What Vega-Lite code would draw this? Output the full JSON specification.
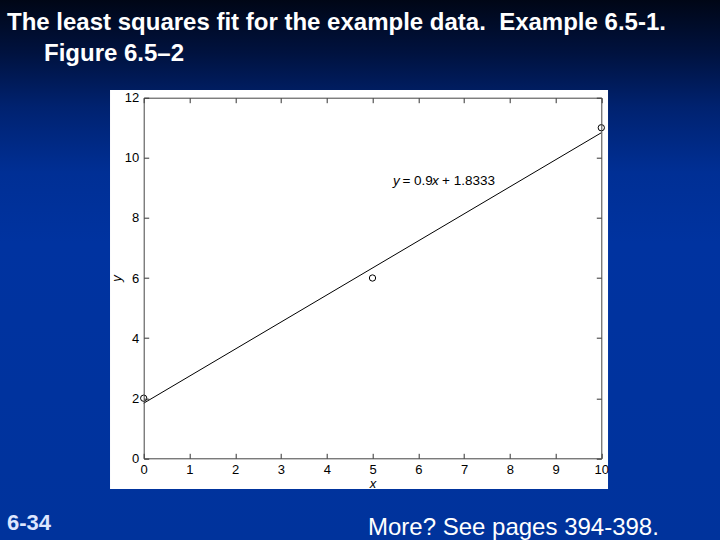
{
  "$schema": "https://vega.github.io/schema/vega-lite/v6.json",
  "autosize": {"type": "none"},
  "width": 457.6,
  "height": 360.6,
  "padding": {"left": 143.7, "top": 97.7, "right": 118.7, "bottom": 81.7},
  "background": "#00339c",
  "config": {
    "view": {"stroke": null},
    "axis": {
      "zindex": 1,
      "grid": false,
      "labelFont": "Liberation Sans",
      "labelFontSize": 13,
      "labelColor": "#000000",
      "titleFont": "Liberation Sans",
      "titleFontSize": 13,
      "titleFontStyle": "italic",
      "titleFontWeight": "normal",
      "titleColor": "#000000",
      "tickSize": -5,
      "tickColor": "#333333",
      "domainColor": "#444444",
      "labelPadding": 10,
      "labelFlush": false,
      "labelOverlap": false
    }
  },
  "datasets": {
    "obs": [{"x": 0, "y": 2}, {"x": 5, "y": 6}, {"x": 10, "y": 11}],
    "fit": [{"x": 0, "y": 1.8333}, {"x": 10, "y": 10.8333}],
    "one": [{"k": 1}]
  },
  "resolve": {"axis": {"x": "independent", "y": "independent"}},
  "layer": [
    {
      "data": {"name": "one"},
      "mark": {
        "type": "rect",
        "clip": false,
        "zindex": 0,
        "fill": {
          "gradient": "linear", "x1": 0, "y1": 0, "x2": 0, "y2": 1,
          "stops": [
            {"offset": 0, "color": "#000615"},
            {"offset": 0.1, "color": "#00123f"},
            {"offset": 0.2, "color": "#002270"},
            {"offset": 0.32, "color": "#002f95"},
            {"offset": 0.45, "color": "#0033a0"},
            {"offset": 1, "color": "#00339c"}
          ]
        }
      },
      "encoding": {
        "x": {"datum": -3.2, "type": "quantitative", "scale": {"domain": [0, 10], "nice": false, "zero": false}, "axis": null},
        "x2": {"datum": 12.7},
        "y": {"datum": -2.8, "type": "quantitative", "scale": {"domain": [0, 12], "nice": false, "zero": false}, "axis": null},
        "y2": {"datum": 15.3}
      }
    },
    {
      "data": {"name": "one"},
      "mark": {"type": "rect", "clip": false, "zindex": 0, "fill": "#ffffff"},
      "encoding": {
        "x": {"datum": -0.736, "type": "quantitative", "scale": {"domain": [0, 10], "nice": false, "zero": false}, "axis": null},
        "x2": {"datum": 10.147},
        "y": {"datum": -1.02, "type": "quantitative", "scale": {"domain": [0, 12], "nice": false, "zero": false}, "axis": null},
        "y2": {"datum": 12.256}
      }
    },
    {
      "data": {"name": "fit"},
      "mark": {"type": "line", "color": "#000000", "strokeWidth": 1, "clip": false, "zindex": 2},
      "encoding": {
        "x": {"field": "x", "type": "quantitative", "scale": {"domain": [0, 10], "nice": false, "zero": false},
              "axis": {"orient": "bottom", "zindex": 1, "values": [0,1,2,3,4,5,6,7,8,9,10], "title": "x", "titlePadding": 1}},
        "y": {"field": "y", "type": "quantitative", "scale": {"domain": [0, 12], "nice": false, "zero": false},
              "axis": {"orient": "left", "zindex": 1, "values": [0,2,4,6,8,10,12], "title": "y", "titlePadding": 1}}
      }
    },
    {
      "data": {"name": "obs"},
      "mark": {"type": "point", "shape": "circle", "filled": false, "stroke": "#000000", "strokeWidth": 1, "size": 40, "opacity": 1, "clip": false, "zindex": 2},
      "encoding": {
        "x": {"field": "x", "type": "quantitative", "scale": {"domain": [0, 10], "nice": false, "zero": false},
              "axis": {"orient": "top", "zindex": 1, "values": [0,1,2,3,4,5,6,7,8,9,10], "labels": false, "title": null}},
        "y": {"field": "y", "type": "quantitative", "scale": {"domain": [0, 12], "nice": false, "zero": false},
              "axis": {"orient": "right", "zindex": 1, "values": [0,2,4,6,8,10,12], "labels": false, "title": null}}
      }
    },
    {
      "data": {"name": "one"},
      "mark": {"type": "text", "clip": false, "zindex": 2, "align": "left", "baseline": "alphabetic", "font": "Liberation Sans", "fontSize": 13.5, "fontStyle": "italic", "color": "#000000", "text": "y"},
      "encoding": {
        "x": {"datum": 5.448, "type": "quantitative", "scale": {"domain": [0, 10], "nice": false, "zero": false}, "axis": null},
        "y": {"datum": 9.095, "type": "quantitative", "scale": {"domain": [0, 12], "nice": false, "zero": false}, "axis": null}
      }
    },
    {
      "data": {"name": "one"},
      "mark": {"type": "text", "clip": false, "zindex": 2, "align": "left", "baseline": "alphabetic", "font": "Liberation Sans", "fontSize": 13.5, "color": "#000000", "text": "= 0.9"},
      "encoding": {
        "x": {"datum": 5.653, "type": "quantitative", "scale": {"domain": [0, 10], "nice": false, "zero": false}, "axis": null},
        "y": {"datum": 9.095, "type": "quantitative", "scale": {"domain": [0, 12], "nice": false, "zero": false}, "axis": null}
      }
    },
    {
      "data": {"name": "one"},
      "mark": {"type": "text", "clip": false, "zindex": 2, "align": "left", "baseline": "alphabetic", "font": "Liberation Sans", "fontSize": 13.5, "fontStyle": "italic", "color": "#000000", "text": "x"},
      "encoding": {
        "x": {"datum": 6.3, "type": "quantitative", "scale": {"domain": [0, 10], "nice": false, "zero": false}, "axis": null},
        "y": {"datum": 9.095, "type": "quantitative", "scale": {"domain": [0, 12], "nice": false, "zero": false}, "axis": null}
      }
    },
    {
      "data": {"name": "one"},
      "mark": {"type": "text", "clip": false, "zindex": 2, "align": "left", "baseline": "alphabetic", "font": "Liberation Sans", "fontSize": 13.5, "color": "#000000", "text": "+ 1.8333"},
      "encoding": {
        "x": {"datum": 6.519, "type": "quantitative", "scale": {"domain": [0, 10], "nice": false, "zero": false}, "axis": null},
        "y": {"datum": 9.095, "type": "quantitative", "scale": {"domain": [0, 12], "nice": false, "zero": false}, "axis": null}
      }
    },
    {
      "data": {"name": "one"},
      "mark": {"type": "text", "clip": false, "zindex": 2, "align": "left", "baseline": "alphabetic", "font": "Liberation Sans", "fontSize": 24, "fontWeight": "bold", "color": "#ffffff", "text": "The least squares fit for the example data.\u00a0 Example 6.5-1."},
      "encoding": {
        "x": {"datum": -2.987, "type": "quantitative", "scale": {"domain": [0, 10], "nice": false, "zero": false}, "axis": null},
        "y": {"datum": 14.253, "type": "quantitative", "scale": {"domain": [0, 12], "nice": false, "zero": false}, "axis": null}
      }
    },
    {
      "data": {"name": "one"},
      "mark": {"type": "text", "clip": false, "zindex": 2, "align": "left", "baseline": "alphabetic", "font": "Liberation Sans", "fontSize": 24, "fontWeight": "bold", "color": "#ffffff", "text": "Figure 6.5–2"},
      "encoding": {
        "x": {"datum": -2.179, "type": "quantitative", "scale": {"domain": [0, 10], "nice": false, "zero": false}, "axis": null},
        "y": {"datum": 13.221, "type": "quantitative", "scale": {"domain": [0, 12], "nice": false, "zero": false}, "axis": null}
      }
    },
    {
      "data": {"name": "one"},
      "mark": {"type": "text", "clip": false, "zindex": 2, "align": "left", "baseline": "alphabetic", "font": "Liberation Sans", "fontSize": 22, "fontWeight": "bold", "color": "#dde6ff", "text": "6-34"},
      "encoding": {
        "x": {"datum": -2.987, "type": "quantitative", "scale": {"domain": [0, 10], "nice": false, "zero": false}, "axis": null},
        "y": {"datum": -2.386, "type": "quantitative", "scale": {"domain": [0, 12], "nice": false, "zero": false}, "axis": null}
      }
    },
    {
      "data": {"name": "one"},
      "mark": {"type": "text", "clip": false, "zindex": 2, "align": "left", "baseline": "alphabetic", "font": "Liberation Sans", "fontSize": 24, "color": "#ffffff", "text": "More? See pages 394-398."},
      "encoding": {
        "x": {"datum": 4.902, "type": "quantitative", "scale": {"domain": [0, 10], "nice": false, "zero": false}, "axis": null},
        "y": {"datum": -2.552, "type": "quantitative", "scale": {"domain": [0, 12], "nice": false, "zero": false}, "axis": null}
      }
    }
  ]
}
